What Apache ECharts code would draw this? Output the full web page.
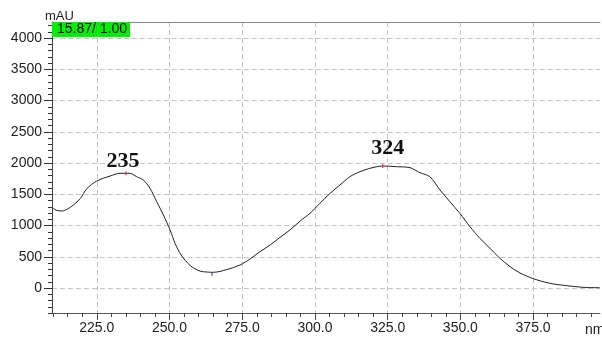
<!DOCTYPE html>
<html>
<head>
<meta charset="utf-8">
<script src="https://cdn.jsdelivr.net/npm/echarts@6/dist/echarts.min.js"></script>
<style>
html,body{margin:0;padding:0;background:#fff;}
#chart{width:602px;height:339px;}
</style>
</head>
<body>
<div id="chart"></div>
<script>
// wavelength (nm)
var wavelengths = [209.6,211,213,215,217,219.3,221.6,225,229.6,233,236.4,238.7,241,243.3,245.6,247.9,250.2,251.9,254,257.1,260.5,263,265.1,269.7,274.2,277.7,281.1,284.6,288,291.4,294.9,298.3,301.7,305.2,308.6,312,315.5,318.9,323.3,328.1,332.7,336.1,339.5,343,346.4,349.8,353.3,356.7,360.2,363.6,367.1,370.5,375,380.8,386.5,392.2,397.9];
// absorbance (mAU)
var absorbance = [1290,1245,1232,1265,1330,1430,1590,1712,1792,1835,1835,1781,1728,1595,1381,1168,928,715,528,360,270,255,251,295,368,465,581,688,811,928,1072,1195,1355,1515,1648,1781,1861,1915,1952,1941,1925,1845,1781,1568,1381,1195,981,795,635,475,341,240,150,75,38,11,5];
// peak annotations
var peakNm = [235, 323.3];
var peakVal = [1835, 1952];
var peakText = ['235', '324'];
// valley marker
var valleyNm = [264.6];
var valleyVal = [251];
// axis ticks
var xMajorTicks = [225, 250, 275, 300, 325, 350, 375];
var xMinorTicks = [210,215,220,225,230,235,240,245,250,255,260,265,270,275,280,285,290,295,300,305,310,315,320,325,330,335,340,345,350,355,360,365,370,375,380,385,390,395];
var yMajorTicks = [0, 500, 1000, 1500, 2000, 2500, 3000, 3500, 4000];
var yMinorTicks = [-400,-300,-200,-100,0,100,200,300,400,500,600,700,800,900,1000,1100,1200,1300,1400,1500,1600,1700,1800,1900,2000,2100,2200,2300,2400,2500,2600,2700,2800,2900,3000,3100,3200,3300,3400,3500,3600,3700,3800,3900,4000,4100,4200];
var infoText = '15.87/ 1.00';
var yUnit = 'mAU';
var xUnit = 'nm';

var X_MIN = 209.6, X_MAX = 398.0, Y_MIN = -400, Y_MAX = 4256;
var FONT = 'Liberation Sans, Arial, sans-serif';
var GRID = {left: 52, right: 2, top: 22, bottom: 26, containLabel: false};

var chart = echarts.init(document.getElementById('chart'), null, {renderer: 'canvas'});

var markData = [];
for (var i = 0; i < peakNm.length; i++) {
  markData.push({
    coord: [peakNm[i], peakVal[i]],
    symbol: 'rect',
    symbolSize: [1, 4],
    itemStyle: {color: '#ff2020'},
    label: {
      show: true,
      formatter: peakText[i],
      position: 'inside',
      offset: i === 0 ? [-3, -12] : [5, -18],
      color: '#111',
      fontFamily: 'Liberation Serif, Times New Roman, serif',
      fontWeight: 'bold',
      fontSize: 22
    }
  });
}
for (var j = 0; j < valleyNm.length; j++) {
  markData.push({
    coord: [valleyNm[j], valleyVal[j]],
    symbol: 'rect',
    symbolSize: [1, 3],
    symbolOffset: [0, 2],
    itemStyle: {color: '#2020ff'},
    label: {show: false}
  });
}

var seriesData = wavelengths.map(function (w, k) { return [w, absorbance[k]]; });

var option = {
  animation: false,
  backgroundColor: '#fff',
  grid: [
    Object.assign({}, GRID),
    Object.assign({}, GRID)
  ],
  xAxis: [
    {
      gridIndex: 0, type: 'value', position: 'bottom', min: X_MIN, max: X_MAX,
      axisLine: {show: true, onZero: false, lineStyle: {color: '#555', width: 1}},
      axisTick: {show: true, customValues: xMajorTicks, length: 7, inside: false, lineStyle: {color: '#444'}},
      axisLabel: {show: true, customValues: xMajorTicks, margin: 8, color: '#222', fontSize: 14, fontFamily: FONT,
        formatter: function (v) { return Number(v).toFixed(1); }},
      splitLine: {show: true, lineStyle: {color: '#c4c4c4', type: [5, 3], width: 1}}
    },
    {
      gridIndex: 0, type: 'value', position: 'top', min: X_MIN, max: X_MAX,
      axisLine: {show: true, onZero: false, lineStyle: {color: '#8a8a8a', width: 1}},
      axisTick: {show: false}, axisLabel: {show: false}, splitLine: {show: false}
    },
    {
      gridIndex: 1, type: 'value', position: 'bottom', min: X_MIN, max: X_MAX,
      axisLine: {show: false, onZero: false},
      axisTick: {show: true, customValues: xMinorTicks, length: 4, lineStyle: {color: '#444'}},
      axisLabel: {show: false},
      splitLine: {show: false}
    }
  ],
  yAxis: [
    {
      gridIndex: 0, type: 'value', position: 'left', min: Y_MIN, max: Y_MAX,
      axisLine: {show: true, onZero: false, lineStyle: {color: '#444', width: 1}},
      axisTick: {show: true, customValues: yMajorTicks, length: 8, lineStyle: {color: '#333'}},
      axisLabel: {show: true, customValues: yMajorTicks, margin: 10, color: '#222', fontSize: 14, fontFamily: FONT,
        formatter: function (v) { return String(v); }},
      splitLine: {show: true, lineStyle: {color: '#c4c4c4', type: [5, 3], width: 1}}
    },
    {
      gridIndex: 1, type: 'value', position: 'left', min: Y_MIN, max: Y_MAX,
      axisLine: {show: false, onZero: false},
      axisTick: {show: true, customValues: yMinorTicks, length: 4, lineStyle: {color: '#333'}},
      axisLabel: {show: false},
      splitLine: {show: false}
    }
  ],
  series: [
    {
      type: 'line',
      xAxisIndex: 0, yAxisIndex: 0,
      data: seriesData,
      smooth: 0.3,
      showSymbol: false,
      lineStyle: {color: '#222', width: 1},
      markPoint: {data: markData, silent: true}
    },
    {
      type: 'line',
      xAxisIndex: 2, yAxisIndex: 1,
      data: [],
      showSymbol: false
    }
  ],
  graphic: [
    {
      type: 'rect', left: 52, top: 22, z: 100,
      shape: {width: 78, height: 15},
      style: {fill: '#00ee00'}
    },
    {
      type: 'text', left: 57, top: 22, z: 101,
      style: {text: infoText, fill: '#000', font: '14px ' + FONT}
    },
    {
      type: 'text', left: 45, top: 10, z: 101,
      style: {text: yUnit, fill: '#222', font: '13px ' + FONT}
    },
    {
      type: 'text', left: 585, top: 323, z: 101,
      style: {text: xUnit, fill: '#222', font: '14px ' + FONT}
    }
  ]
};
chart.setOption(option);
</script>
</body>
</html>
